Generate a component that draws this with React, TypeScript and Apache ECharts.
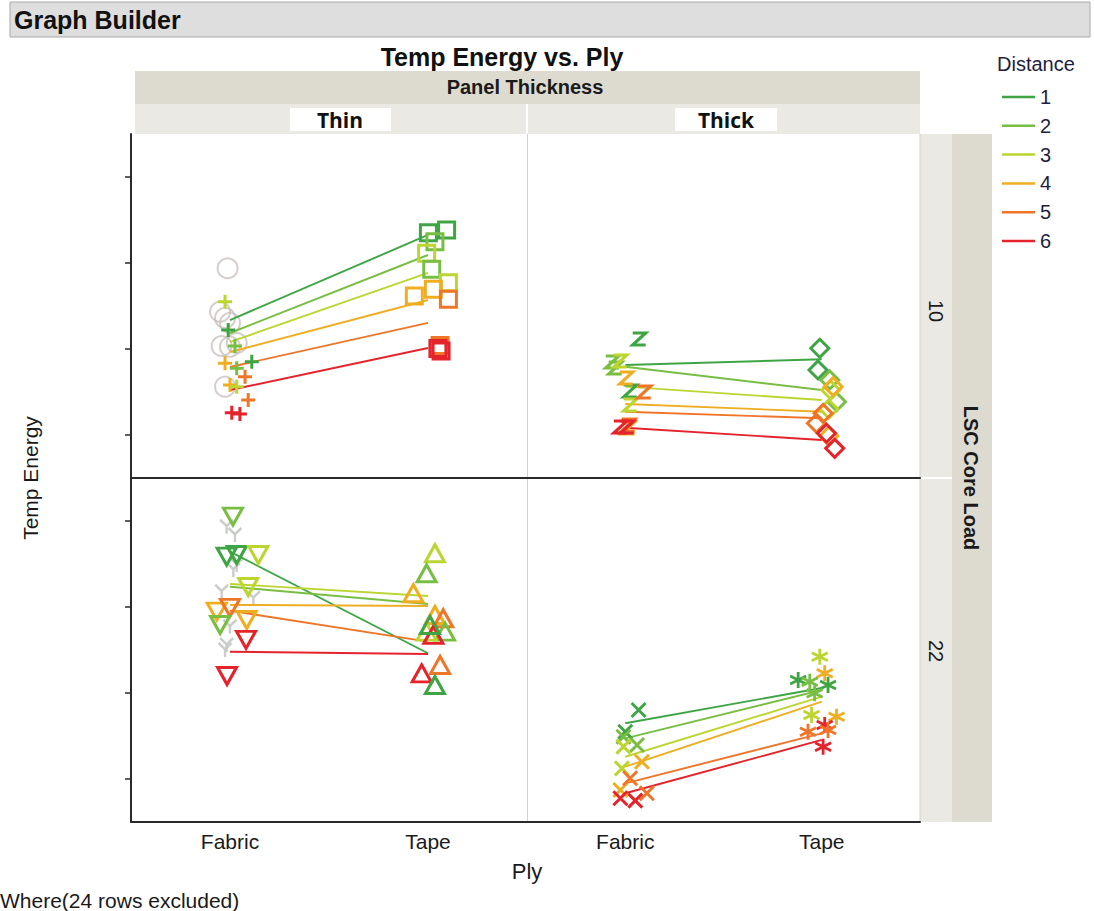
import React, { useEffect, useRef } from "react";
import * as echarts from "echarts";

// ---- categories ----
const distances = ["1", "2", "3", "4", "5", "6"];
const distanceColors = ["#3fa544", "#78be43", "#bcd531", "#efae22", "#ef7529", "#e5232b"];
const plyLabels = ["Fabric", "Tape"];
const energyTicks = [1000, 2000, 3000, 4000];

// ---- Thin / LSC Core Load 10 ----
const thin10FabricMeans = [2337, 2186, 2082, 1965, 1791, 1523];
const thin10TapeMeans = [3326, 3093, 2884, 2570, 2303, 2012];
// [Temp Energy, Distance]
const thin10Fabric = [[2550, 3], [2221, 1], [2035, 2], [1834, 4], [1776, 2], [1853, 1], [1678, 5], [1582, 4], [1562, 3], [1407, 5], [1259, 6], [1244, 6]];
const thin10FabricJitter = [-0.025, -0.009, 0.025, -0.025, 0.034, 0.11, 0.076, 0, 0.034, 0.092, 0.009, 0.05];
const thin10Tape = [[3353, 1], [3384, 1], [3248, 2], [3113, 3], [2927, 2], [2771, 3], [2695, 4], [2617, 4], [2578, 5], [2041, 5], [2006, 6], [1977, 6]];
const thin10TapeJitter = [0.002, 0.094, 0.035, -0.007, 0.019, 0.103, 0.027, -0.069, 0.103, 0.061, 0.05, 0.066];
const thin10Excluded = [2939, 2434, 2361, 2303, 2035, 2027, 2070, 1562];
const thin10ExcludedJitter = [-0.012, -0.05, -0.025, 0, -0.042, 0, 0.034, -0.025];

// ---- Thick / LSC Core Load 10 ----
const thick10FabricMeans = [1814, 1794, 1562, 1361, 1271, 1085];
const thick10TapeMeans = [1880, 1523, 1407, 1271, 1194, 942];
const thick10Fabric = [[2117, 1], [1512, 1], [1849, 2], [1779, 2], [1861, 3], [1349, 3], [1663, 4], [1082, 4], [1500, 5], [1116, 5], [1093, 6], [1093, 6]];
const thick10FabricJitter = [0.071, 0.025, -0.066, -0.051, -0.025, 0.025, 0.005, 0.015, 0.097, 0.015, -0.025, 0.01];
const thick10Tape = [[2008, 1], [1756, 1], [1640, 2], [1387, 2], [1523, 3], [1302, 3], [1562, 4], [988, 4], [1252, 5], [1136, 5], [1020, 6], [845, 6]];
const thick10TapeJitter = [-0.01, -0.019, 0.041, 0.075, 0.046, 0.036, 0.058, 0.036, 0.007, -0.027, 0.024, 0.066];

// ---- Thin / LSC Core Load 22 ----
const thin22FabricMeans = [3643, 3236, 3268, 3024, 2957, 2480];
const thin22TapeMeans = [2462, 3035, 3128, 3012, 2597, 2454];
const thin22Fabric = [[4051, 2], [3585, 1], [3605, 1], [3605, 3], [3233, 3], [2946, 4], [2989, 5], [2849, 4], [2791, 2], [2617, 6], [2198, 6]];
const thin22FabricJitter = [0.015, -0.017, 0.034, 0.143, 0.092, -0.067, 0, 0.084, -0.05, 0.081, -0.015];
const thin22Tape = [[3625, 3], [3392, 2], [3160, 4], [2907, 4], [2869, 5], [2713, 2], [2713, 3], [2675, 6], [2229, 6], [2326, 5], [2093, 1], [2791, 1]];
const thin22TapeJitter = [0.035, -0.007, -0.074, 0.035, 0.077, 0.086, -0.007, 0.027, -0.032, 0.061, 0.035, 0.01];
const thin22Excluded = [3934, 3838, 3489, 3431, 3178, 3102, 2771, 2558, 2500];
const thin22ExcludedJitter = [-0.017, 0.025, 0.034, 0.017, -0.042, 0.118, 0, -0.017, -0.025];

// ---- Thick / LSC Core Load 22 ----
const thick22FabricMeans = [1648, 1473, 1259, 1143, 950, 834];
const thick22TapeMeans = [2058, 2035, 1957, 1899, 1531, 1454];
const thick22Fabric = [[1802, 1], [1550, 1], [1492, 2], [1395, 2], [1376, 3], [1124, 3], [1201, 4], [872, 4], [1008, 5], [834, 5], [776, 6], [748, 6]];
const thick22FabricJitter = [0.068, 0, -0.009, 0.06, -0.009, -0.017, 0.085, -0.025, 0.025, 0.11, -0.025, 0.051];
const thick22Tape = [[2422, 3], [2229, 4], [2151, 1], [2132, 2], [2093, 1], [1997, 2], [1744, 3], [1725, 4], [1628, 6], [1550, 5], [1570, 5], [1376, 6]];
const thick22TapeJitter = [-0.01, 0.015, -0.12, -0.061, 0.032, -0.036, -0.052, 0.075, 0.015, -0.07, 0.032, 0.007];

// ---- marker shapes ----
const SYM = {
  plus: "path://M5,0L5,10M0,5L10,5",
  cross: "path://M0,0L10,10M10,0L0,10",
  asterisk: "path://M5,0L5,10M0.67,2.5L9.33,7.5M9.33,2.5L0.67,7.5",
  zee: "path://M1,0L9,0L1,10L9,10",
  wye: "path://M0,0L5,5L10,0M5,5L5,11",
  triDown: "path://M0,0L10,0L5,9Z",
  triUp: "path://M5,0L10,9L0,9Z",
};

const FONT = "'Liberation Sans', Arial, sans-serif";
const INK = "#1a1a1a";

const grids = [
  { left: 131, top: 134, width: 396, height: 344 },
  { left: 527, top: 134, width: 393, height: 344 },
  { left: 131, top: 478, width: 396, height: 344 },
  { left: 527, top: 478, width: 393, height: 344 },
];

type Marker = { symbol: string; size: number | number[]; width: number };

const panels = [
  {
    name: "Thin 10",
    fabricMeans: thin10FabricMeans, tapeMeans: thin10TapeMeans,
    fabric: thin10Fabric, fabricJitter: thin10FabricJitter, fabricMarker: { symbol: SYM.plus, size: 14, width: 3 },
    tape: thin10Tape, tapeJitter: thin10TapeJitter, tapeMarker: { symbol: "rect", size: 16, width: 3 },
    excluded: thin10Excluded, excludedJitter: thin10ExcludedJitter,
    excludedMarker: { symbol: "circle", size: 20, width: 2 }, excludedColor: "rgba(200,188,188,0.75)",
  },
  {
    name: "Thick 10",
    fabricMeans: thick10FabricMeans, tapeMeans: thick10TapeMeans,
    fabric: thick10Fabric, fabricJitter: thick10FabricJitter, fabricMarker: { symbol: SYM.zee, size: [13, 12], width: 3.2 },
    tape: thick10Tape, tapeJitter: thick10TapeJitter, tapeMarker: { symbol: "diamond", size: 18, width: 3 },
  },
  {
    name: "Thin 22",
    fabricMeans: thin22FabricMeans, tapeMeans: thin22TapeMeans,
    fabric: thin22Fabric, fabricJitter: thin22FabricJitter, fabricMarker: { symbol: SYM.triDown, size: [19, 17], width: 3 },
    tape: thin22Tape, tapeJitter: thin22TapeJitter, tapeMarker: { symbol: SYM.triUp, size: [19, 17], width: 3 },
    excluded: thin22Excluded, excludedJitter: thin22ExcludedJitter,
    excludedMarker: { symbol: SYM.wye, size: [13, 14], width: 2.5 }, excludedColor: "rgba(196,200,196,0.9)",
  },
  {
    name: "Thick 22",
    fabricMeans: thick22FabricMeans, tapeMeans: thick22TapeMeans,
    fabric: thick22Fabric, fabricJitter: thick22FabricJitter, fabricMarker: { symbol: SYM.cross, size: 14, width: 3 },
    tape: thick22Tape, tapeJitter: thick22TapeJitter, tapeMarker: { symbol: SYM.asterisk, size: 16, width: 2.8 },
  },
];

function pointSeries(name: string, grid: number, ply: number, pts: number[][], jitter: number[], m: Marker) {
  return {
    type: "scatter",
    name,
    xAxisIndex: grid,
    yAxisIndex: grid,
    symbol: m.symbol,
    symbolSize: m.size,
    silent: true,
    z: 3,
    itemStyle: { color: "rgba(0,0,0,0)", borderWidth: m.width, opacity: 1 },
    data: pts.map(([v, d], i) => ({
      value: [ply + jitter[i], v],
      itemStyle: { borderColor: distanceColors[d - 1] },
    })),
  };
}

function buildOption() {
  const series: any[] = [];
  panels.forEach((p: any, g) => {
    if (p.excluded) {
      series.push({
        type: "scatter",
        name: p.name + " excluded",
        xAxisIndex: g,
        yAxisIndex: g,
        symbol: p.excludedMarker.symbol,
        symbolSize: p.excludedMarker.size,
        silent: true,
        z: 1,
        itemStyle: { color: "rgba(0,0,0,0)", borderColor: p.excludedColor, borderWidth: p.excludedMarker.width, opacity: 1 },
        data: p.excluded.map((v: number, i: number) => [0 + p.excludedJitter[i], v]),
      });
    }
    distances.forEach((d, k) => {
      series.push({
        type: "line",
        name: d,
        xAxisIndex: g,
        yAxisIndex: g,
        symbol: "none",
        silent: true,
        z: 2,
        color: distanceColors[k],
        lineStyle: { color: distanceColors[k], width: 1.9 },
        data: [[0, p.fabricMeans[k]], [1, p.tapeMeans[k]]],
      });
    });
    series.push(pointSeries(p.name + " Fabric", g, 0, p.fabric, p.fabricJitter, p.fabricMarker));
    series.push(pointSeries(p.name + " Tape", g, 1, p.tape, p.tapeJitter, p.tapeMarker));
  });

  const xAxis = grids.map((_, i) => ({
    type: "value",
    gridIndex: i,
    min: -0.5,
    max: 1.5,
    splitLine: { show: false },
    axisTick: { show: false },
    axisLine: { show: true, onZero: false, lineStyle: { color: "#2a2a2a", width: 2 } },
    axisLabel: {
      show: i >= 2,
      customValues: [0, 1],
      formatter: (v: number) => plyLabels[Math.round(v)] ?? "",
      fontSize: 21,
      fontFamily: FONT,
      color: INK,
      margin: 9,
    },
  }));

  const yAxis = grids.map((_, i) => {
    const left = i % 2 === 0;
    return {
      type: "value",
      gridIndex: i,
      min: 500,
      max: 4500,
      splitLine: { show: false },
      axisLabel: { show: false },
      axisLine: {
        show: true,
        onZero: false,
        lineStyle: left ? { color: "#2a2a2a", width: 2 } : { color: "#d2d2d2", width: 1 },
      },
      axisTick: {
        show: left,
        inside: false,
        length: 6,
        customValues: energyTicks,
        lineStyle: { color: "#2a2a2a", width: 1.5 },
      },
    };
  });

  const band = "#dddbd0";
  const lightBand = "#ebe9e3";

  const graphic: any[] = [
    // window header
    { type: "rect", shape: { x: 10, y: 2, width: 1080, height: 35 }, style: { fill: "#dedede", stroke: "#a9a9a9", lineWidth: 1 } },
    { type: "text", x: 14, y: 20, style: { text: "Graph Builder", font: `bold 25px ${FONT}`, fill: "#111", verticalAlign: "middle", textVerticalAlign: "middle" } },
    // chart title
    { type: "text", x: 502, y: 57, style: { text: "Temp Energy vs. Ply", font: `bold 25px ${FONT}`, fill: "#111", align: "center", textAlign: "center", verticalAlign: "middle", textVerticalAlign: "middle" } },
    // column facet header
    { type: "rect", shape: { x: 135, y: 71, width: 785, height: 33 }, style: { fill: band } },
    { type: "text", x: 525, y: 87, style: { text: "Panel Thickness", font: `bold 20px ${FONT}`, fill: INK, align: "center", textAlign: "center", verticalAlign: "middle", textVerticalAlign: "middle" } },
    { type: "rect", shape: { x: 135, y: 104, width: 785, height: 30 }, style: { fill: lightBand } },
    { type: "line", shape: { x1: 527, y1: 104, x2: 527, y2: 134 }, style: { stroke: "#ffffff", lineWidth: 2 } },
    { type: "rect", shape: { x: 290, y: 108, width: 101, height: 23 }, style: { fill: "#ffffff" } },
    { type: "text", x: 340, y: 120, style: { text: "Thin", font: `bold 21px 'Open Sans', sans-serif`, fill: "#111", align: "center", textAlign: "center", verticalAlign: "middle", textVerticalAlign: "middle" } },
    { type: "rect", shape: { x: 675, y: 108, width: 102, height: 23 }, style: { fill: "#ffffff" } },
    { type: "text", x: 726, y: 120, style: { text: "Thick", font: `bold 21px 'Open Sans', sans-serif`, fill: "#111", align: "center", textAlign: "center", verticalAlign: "middle", textVerticalAlign: "middle" } },
    // row facet header
    { type: "rect", shape: { x: 920, y: 134, width: 32, height: 688 }, style: { fill: lightBand } },
    { type: "rect", shape: { x: 952, y: 134, width: 40, height: 688 }, style: { fill: band } },
    { type: "line", shape: { x1: 920, y1: 478, x2: 952, y2: 478 }, style: { stroke: "#ffffff", lineWidth: 2 } },
    { type: "text", x: 936, y: 311, rotation: -Math.PI / 2, style: { text: "10", font: `20px ${FONT}`, fill: INK, align: "center", textAlign: "center", verticalAlign: "middle", textVerticalAlign: "middle" } },
    { type: "text", x: 936, y: 651, rotation: -Math.PI / 2, style: { text: "22", font: `20px ${FONT}`, fill: INK, align: "center", textAlign: "center", verticalAlign: "middle", textVerticalAlign: "middle" } },
    { type: "text", x: 971, y: 478, rotation: -Math.PI / 2, style: { text: "LSC Core Load", font: `bold 20px ${FONT}`, fill: INK, align: "center", textAlign: "center", verticalAlign: "middle", textVerticalAlign: "middle" } },
    // plot frame on the right
    { type: "line", shape: { x1: 920, y1: 134, x2: 920, y2: 822 }, style: { stroke: "#d2d2d2", lineWidth: 1 } },
    // axis titles
    { type: "text", x: 30, y: 478, rotation: Math.PI / 2, style: { text: "Temp Energy", font: `21px ${FONT}`, fill: INK, align: "center", textAlign: "center", verticalAlign: "middle", textVerticalAlign: "middle" } },
    { type: "text", x: 527, y: 871, style: { text: "Ply", font: `22px ${FONT}`, fill: INK, align: "center", textAlign: "center", verticalAlign: "middle", textVerticalAlign: "middle" } },
    { type: "text", x: 0, y: 900, style: { text: "Where(24 rows excluded)", font: `21px ${FONT}`, fill: INK, verticalAlign: "middle", textVerticalAlign: "middle" } },
    // legend title
    { type: "text", x: 997, y: 64, style: { text: "Distance", font: `20px ${FONT}`, fill: "#1e1e3c", verticalAlign: "middle", textVerticalAlign: "middle" } },
  ];

  return {
    animation: false,
    backgroundColor: "#ffffff",
    grid: grids,
    xAxis,
    yAxis,
    legend: {
      data: distances,
      orient: "vertical",
      left: 997,
      top: 82,
      icon: "rect",
      itemWidth: 33,
      itemHeight: 2.5,
      itemGap: 8.8,
      selectedMode: false,
      textStyle: { fontSize: 20, fontFamily: FONT, color: "#1e1e3c", lineHeight: 20 },
    },
    graphic,
    series,
  };
}

export default function App() {
  const ref = useRef<HTMLDivElement>(null);
  useEffect(() => {
    if (!ref.current) return;
    const chart = echarts.init(ref.current, undefined, { renderer: "svg" });
    chart.setOption(buildOption() as any);
    return () => chart.dispose();
  }, []);
  return (
    <div
      ref={ref}
      style={{ position: "absolute", left: 0, top: 0, width: 1094, height: 911, background: "#fff" }}
    />
  );
}
